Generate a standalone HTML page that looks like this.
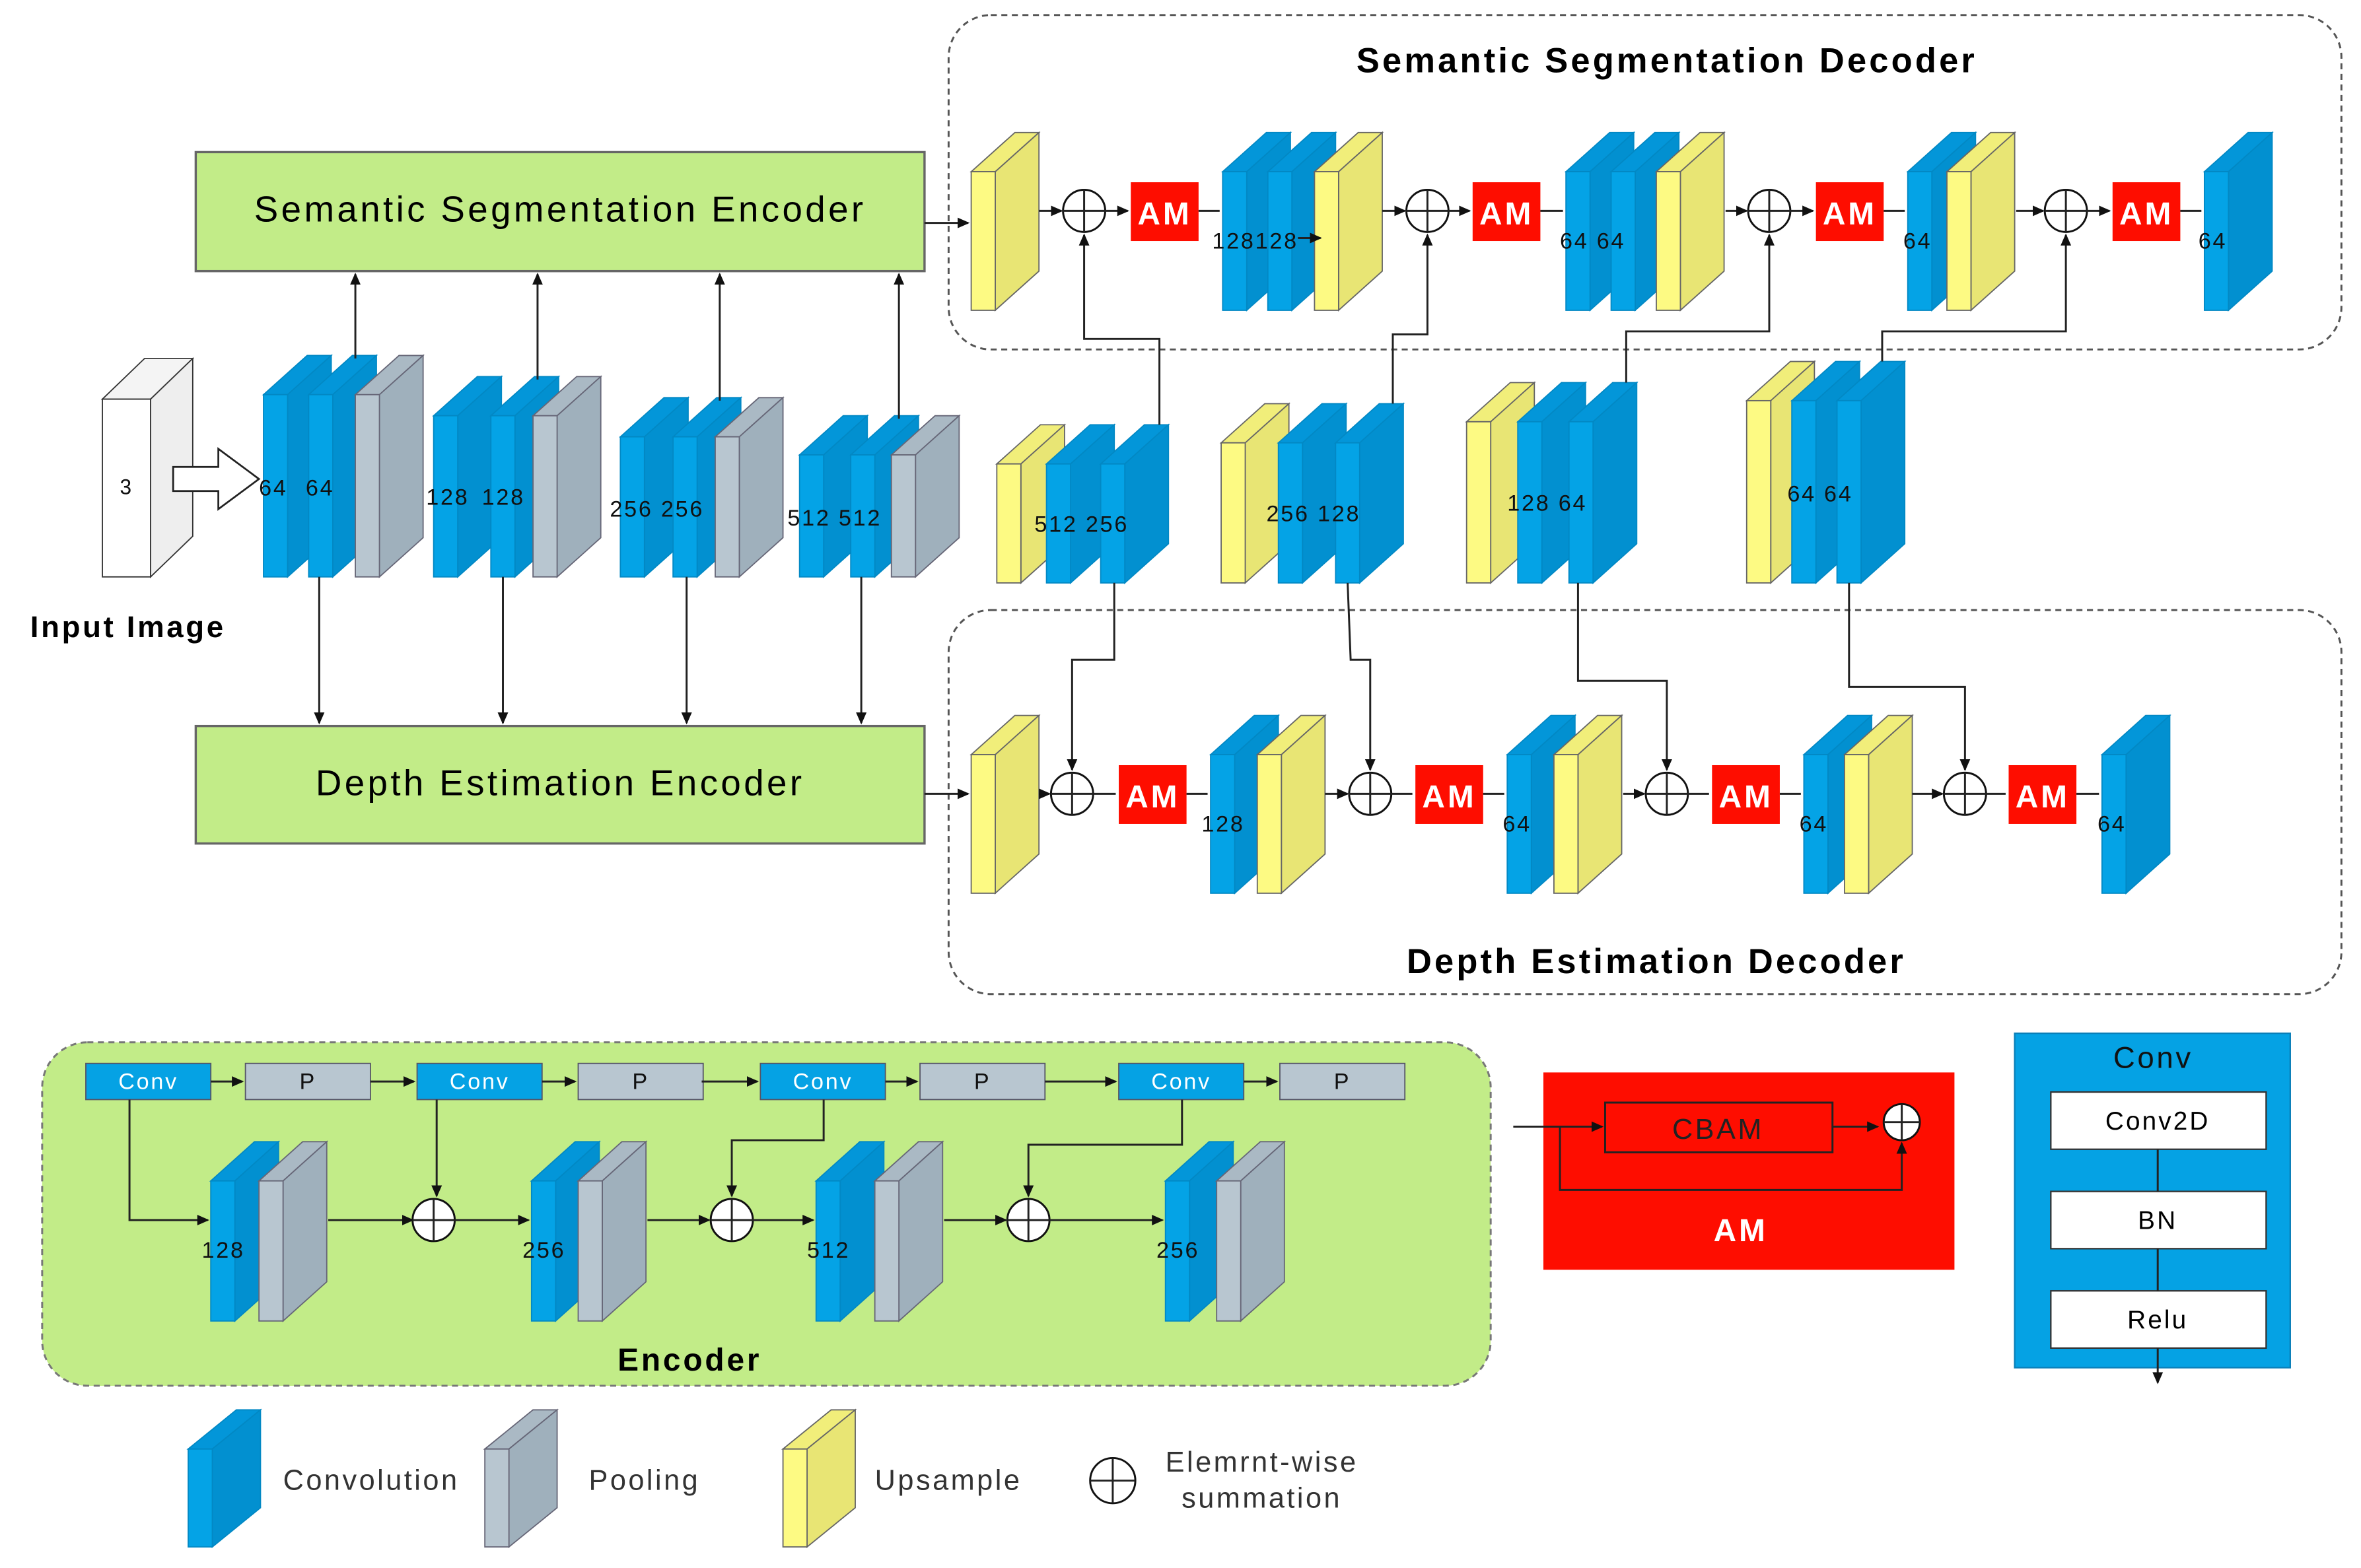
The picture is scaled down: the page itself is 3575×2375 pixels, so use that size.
<!DOCTYPE html>
<html><head><meta charset="utf-8"><style>
html,body{margin:0;padding:0;background:#fff;}
svg{display:block;}
text{font-family:"Liberation Sans",Arial,sans-serif;letter-spacing:0.08em;}
</style></head><body>
<svg id="s" width="3575" height="2375" viewBox="0 0 1568 1041" preserveAspectRatio="none" xmlns="http://www.w3.org/2000/svg">
<defs>
<marker id="a" markerWidth="8" markerHeight="8" refX="7" refY="4" orient="auto" markerUnits="userSpaceOnUse"><path d="M0,0.5 L8,4 L0,7.5 z" fill="#111"/></marker>
</defs>
<rect x="0" y="0" width="1568" height="1041" fill="#fff"/>
<rect x="630" y="10" width="925" height="222" rx="28" fill="none" stroke="#555" stroke-width="1.3" stroke-dasharray="4,3"/>
<rect x="630" y="405" width="925" height="255" rx="28" fill="none" stroke="#555" stroke-width="1.3" stroke-dasharray="4,3"/>
<text x="1107" y="48" font-size="23" font-weight="bold" text-anchor="middle">Semantic Segmentation Decoder</text>
<text x="1100" y="646" font-size="23" font-weight="bold" text-anchor="middle">Depth Estimation Decoder</text>
<rect x="130" y="101" width="484" height="79" fill="#c2ec88" stroke="#666" stroke-width="1.5"/>
<text x="372" y="147" font-size="24" text-anchor="middle">Semantic Segmentation Encoder</text>
<rect x="130" y="482" width="484" height="78" fill="#c2ec88" stroke="#666" stroke-width="1.5"/>
<text x="372" y="528" font-size="24" text-anchor="middle">Depth Estimation Encoder</text>
<rect x="28" y="692" width="962" height="228" rx="30" fill="#c2ec88" stroke="#777" stroke-width="1.3" stroke-dasharray="4,3"/>
<text x="458" y="910" font-size="21" font-weight="bold" text-anchor="middle">Encoder</text>
<rect x="1025" y="712" width="273" height="131" fill="#fe0d00"/>
<rect x="1066" y="732" width="151" height="33" fill="none" stroke="#222" stroke-width="1.3"/>
<text x="1141" y="756" font-size="19" text-anchor="middle" fill="#222">CBAM</text>
<text x="1156" y="824" font-size="21" font-weight="bold" text-anchor="middle" fill="#fff">AM</text>
<rect x="1338" y="686" width="183" height="222" fill="#05a2e4" stroke="#0a7fb8"/>
<text x="1430" y="709" font-size="20" text-anchor="middle" fill="#111">Conv</text>
<rect x="1362" y="725" width="143" height="38" fill="#fff" stroke="#333"/>
<text x="1433" y="750" font-size="17" text-anchor="middle">Conv2D</text>
<rect x="1362" y="791" width="143" height="38" fill="#fff" stroke="#333"/>
<text x="1433" y="816" font-size="17" text-anchor="middle">BN</text>
<rect x="1362" y="857" width="143" height="38" fill="#fff" stroke="#333"/>
<text x="1433" y="882" font-size="17" text-anchor="middle">Relu</text>
<g id="g"></g>
<text x="85" y="423" font-size="20" font-weight="bold" text-anchor="middle">Input Image</text>
</svg>
<script>
var g=document.getElementById('g'),NS='http://www.w3.org/2000/svg';
function el(t,a,txt){var e=document.createElementNS(NS,t);for(var k in a)e.setAttribute(k,a[k]);if(txt!==undefined)e.textContent=txt;g.appendChild(e);return e;}
var C={b:['#04a3e6','#0290d0','#0396d9','#0288c4'],p:['#b8c6d0','#9fb0bc','#aab9c4','#667'],y:['#fdfa83','#e8e574','#f1ee7a','#666'],w:['#fff','#eee','#f4f4f4','#333']};
function slab(x,y,h,c,w,dx,dy){w=w||16;dx=dx||29;dy=dy||26;var k=C[c];var s=k[3];
el('polygon',{points:[x,y,x+dx,y-dy,x+w+dx,y-dy,x+w,y].join(','),fill:k[2],stroke:s,'stroke-width':0.8});
el('polygon',{points:[x+w,y,x+w+dx,y-dy,x+w+dx,y+h-dy,x+w,y+h].join(','),fill:k[1],stroke:s,'stroke-width':0.8});
el('rect',{x:x,y:y,width:w,height:h,fill:k[0],stroke:s,'stroke-width':0.8});}
function T(x,y,s,fs,anc,fill,bold){var a={x:x,y:y,'font-size':fs||16,'text-anchor':anc||'start',fill:fill||'#111'};if(bold)a['font-weight']='bold';el('text',a,s);}
function L(pts,arrow){var a={points:pts.join(','),fill:'none',stroke:'#222','stroke-width':1.3};if(arrow)a['marker-end']='url(#a)';el('polyline',a);}
function plus(x,y,r){r=r||14;el('circle',{cx:x,cy:y,r:r,fill:'#fff',stroke:'#111','stroke-width':1.3});L([x-r,y,x+r,y]);L([x,y-r,x,y+r]);}
function AM(x,y){el('rect',{x:x,y:y,width:45,height:39,fill:'#fe0d00'});T(x+22.5,y+28,'AM',21,'middle','#fff',true);}
slab(68,265,118,'w',32,28,27);T(84,328,'3',14,'middle');
el('polygon',{points:'115,310 145,310 145,298 172,318 145,338 145,326 115,326',fill:'#fff',stroke:'#222','stroke-width':1.2});
var E=[[175,205,236,262],[288,326,354,276],[412,447,475,290],[531,565,592,302]];
E.forEach(function(e){var h=383-e[3];slab(e[0],e[3],h,'b');slab(e[1],e[3],h,'b');slab(e[2],e[3],h,'p');});
T(172,329,'64',15);T(203,329,'64',15);T(283,335,'128',15);T(320,335,'128',15);T(405,343,'256 256',15);T(523,349,'512 512',15);
[[236,238],[357,252],[478,266],[597,278]].forEach(function(p){L([p[0],p[1],p[0],182],1);});
[212,334,456,572].forEach(function(x){L([x,383,x,480],1);});
L([614,148,643,148],1);L([614,527,643,527],1);
var M=[[662,695,731,308,'512 256',687,353],[811,849,887,294,'256  128',841,346],[974,1008,1042,280,'128  64',1001,339],[1160,1190,1220,266,'64  64',1187,333]];
M.forEach(function(m){var h=387-m[3];slab(m[0],m[3],h,'y');slab(m[1],m[3],h,'b');slab(m[2],m[3],h,'b');T(m[5],m[6],m[4],15);});
var tp=114,hh=92;
slab(645,tp,hh,'y');L([690,140,705,140],1);plus(720,140);L([734,140,749,140],1);AM(751,121);L([796,140,810,140]);
slab(812,tp,hh,'b');slab(842,tp,hh,'b');slab(873,tp,hh,'y');T(805,165,'128128',15);L([862,158,877,158],1);
L([918,140,933,140],1);plus(948,140);L([962,140,976,140],1);AM(978,121);L([1023,140,1038,140]);
slab(1040,tp,hh,'b');slab(1070,tp,hh,'b');slab(1100,tp,hh,'y');T(1036,165,'64  64',15);
L([1146,140,1160,140],1);plus(1175,140);L([1189,140,1204,140],1);AM(1206,121);L([1251,140,1265,140]);
slab(1267,tp,hh,'b');slab(1293,tp,hh,'y');T(1264,165,'64',15);
L([1339,140,1357,140],1);plus(1372,140);L([1386,140,1401,140],1);AM(1403,121);L([1448,140,1462,140]);
slab(1464,tp,hh,'b');T(1460,165,'64',15);
var dt=501,dh=92;
slab(645,dt,dh,'y');L([690,527,697,527],1);plus(712,527);L([726,527,741,527]);AM(743,508);L([788,527,802,527]);
slab(804,dt,dh,'b');slab(835,dt,dh,'y');T(798,552,'128',15);
L([880,527,895,527],1);plus(910,527);L([924,527,938,527]);AM(940,508);L([985,527,999,527]);
slab(1001,dt,dh,'b');slab(1032,dt,dh,'y');T(998,552,'64',15);
L([1078,527,1092,527],1);plus(1107,527);L([1121,527,1135,527]);AM(1137,508);L([1182,527,1196,527]);
slab(1198,dt,dh,'b');slab(1225,dt,dh,'y');T(1195,552,'64',15);
L([1270,527,1290,527],1);plus(1305,527);L([1319,527,1332,527]);AM(1334,508);L([1379,527,1394,527]);
slab(1396,dt,dh,'b');T(1393,552,'64',15);
L([770,282,770,225,720,225,720,156],1);
L([925,268,925,222,948,222,948,156],1);
L([1080,254,1080,220,1175,220,1175,156],1);
L([1250,240,1250,220,1372,220,1372,156],1);
L([740,387,740,438,712,438,712,511],1);
L([895,387,897,438,910,438,910,511],1);
L([1048,387,1048,452,1107,452,1107,511],1);
L([1228,387,1228,456,1305,456,1305,511],1);
function box(x,c,s){el('rect',{x:x,y:706,width:83,height:24,fill:c,stroke:'#556','stroke-width':0.8});T(x+41.5,723,s,15,'middle',c=='#05a2e4'?'#fff':'#111');}
[57,277,505,743].forEach(function(x){box(x,'#05a2e4','Conv');});
[163,384,611,850].forEach(function(x){box(x,'#b8c6d0','P');});
L([140,718,161,718],1);L([246,718,275,718],1);L([360,718,382,718],1);L([466,718,503,718],1);L([588,718,609,718],1);L([694,718,741,718],1);L([826,718,848,718],1);
var ES=[[140,172,'128'],[353,384,'256'],[542,581,'512'],[774,808,'256']];
ES.forEach(function(e){slab(e[0],784,93,'b');slab(e[1],784,93,'p');T(e[0]-6,835,e[2],15);});
L([86,730,86,810,138,810],1);
L([218,810,274,810],1);plus(288,810);L([302,810,351,810],1);
L([290,730,290,794],1);
L([430,810,471,810],1);plus(486,810);L([500,810,540,810],1);
L([547,730,547,757,486,757,486,794],1);
L([627,810,668,810],1);plus(683,810);L([697,810,772,810],1);
L([785,730,785,760,683,760,683,794],1);
L([1005,748,1064,748],1);L([1217,748,1247,748],1);plus(1263,745,12);
L([1036,748,1036,790,1263,790,1263,759],1);
L([1433,763,1433,791]);L([1433,829,1433,857]);L([1433,895,1433,918],1);
slab(125,962,65,'b',16,32,26);T(188,989,'Convolution',19,'start','#333');
slab(322,962,65,'p',16,32,26);T(391,989,'Pooling',19,'start','#333');
slab(520,962,65,'y',16,32,26);T(581,989,'Upsample',19,'start','#333');
plus(739,983,15);T(838,977,'Elemrnt-wise',19,'middle','#333');T(838,1001,'summation',19,'middle','#333');
</script>
</body></html>
